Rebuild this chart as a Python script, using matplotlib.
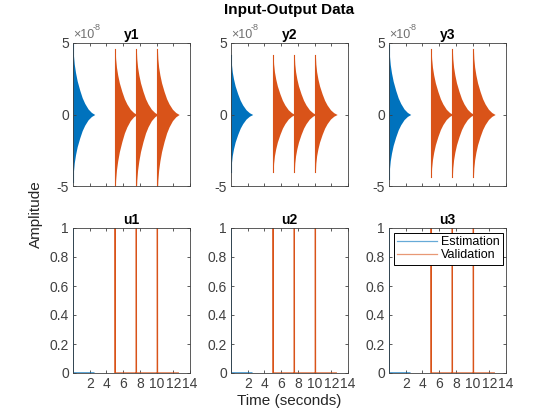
import numpy as np
import matplotlib.pyplot as plt

plt.rcParams['font.family'] = ['Liberation Sans', 'DejaVu Sans']
plt.rcParams['axes.unicode_minus'] = False

# envelope of the decaying oscillation (relative to peak)
env_t = [0, 0.05, 0.15, 0.3, 0.5, 0.8, 1.1, 1.4, 1.8, 2.2, 2.6]
env_shape = [1.0, 0.85, 0.72, 0.60, 0.48, 0.35, 0.24, 0.16, 0.08, 0.03, 0.0]

# start times of the experiments (seconds)
est_starts = [0.0]
val_starts = [5.05, 7.58, 10.1]
seg_len = 2.5

# peak amplitude (x1e-8): [upper, lower] for estimation and validation
y_names = ['y1', 'y2', 'y3']
est_peaks = [[4.9, -4.7], [4.15, -4.0], [4.85, -4.5]]
val_peaks = [[4.6, -5.4], [4.15, -4.0], [4.6, -4.4]]
u_names = ['u1', 'u2', 'u3']
u_height = 1.0

blue = '#0072BD'
orange = '#D95319'
grey = '#404040'

fig = plt.figure(figsize=(5.6, 4.2), dpi=100)
xs = [73/560, 231/560, 389/560]
w = 117/560


def style(ax):
    ax.set_xlim(0, 14)
    ax.set_xticks(np.arange(2, 15, 2))
    ax.tick_params(direction='in', length=2.5, width=0.6, top=True, right=True,
                   colors=grey, labelsize=10, pad=3)
    for s in ax.spines.values():
        s.set_color(grey)
        s.set_linewidth(0.6)


def envelope(ax, start, peaks, color):
    t = start + np.array(env_t)
    shape = np.array(env_shape)
    ax.fill_between(t, peaks[1] * shape * 1e-8, peaks[0] * shape * 1e-8,
                    color=color, lw=0)
    ax.plot([start, start], [peaks[1] * 1e-8, peaks[0] * 1e-8], color=color, lw=0.8)


def impulses(ax, starts, color, label):
    tt, uu = [], []
    for s in starts:
        tt += [s, s, s + 0.01]
        uu += [0, u_height, 0]
    tt.append(starts[-1] + seg_len)
    uu.append(0)
    ax.plot(tt, uu, color=color, lw=0.9, label=label)


for i in range(3):
    ax = fig.add_axes([xs[i], 1 - 186/420, w, 143/420])
    for s in est_starts:
        envelope(ax, s, est_peaks[i], blue)
    for s in val_starts:
        envelope(ax, s, val_peaks[i], orange)
    ax.set_ylim(-5e-8, 5e-8)
    ax.set_yticks([-5e-8, 0, 5e-8])
    ax.set_yticklabels(['-5', '0', '5'])
    style(ax)
    ax.set_xticklabels([])
    ax.set_title(y_names[i], fontsize=10, fontweight='bold', pad=3)
    ax.text(0.0, 1.015, '\u00d710', transform=ax.transAxes, fontsize=9,
            color='#707070', ha='left', va='bottom')
    ax.text(0.165, 1.075, '-8', transform=ax.transAxes, fontsize=6.5,
            color='#707070', ha='left', va='bottom')

    ax2 = fig.add_axes([xs[i], 1 - 373/420, w, 145/420])
    impulses(ax2, est_starts, blue, 'Estimation')
    impulses(ax2, val_starts, orange, 'Validation')
    ax2.set_ylim(0, 1)
    ax2.set_yticks([0, 0.2, 0.4, 0.6, 0.8, 1])
    ax2.set_yticklabels(['0', '0.2', '0.4', '0.6', '0.8', '1'])
    style(ax2)
    ax2.set_title(u_names[i], fontsize=10, fontweight='bold', pad=3)
    if i == 2:
        leg = ax2.legend(loc='upper left', fontsize=9, fancybox=False, framealpha=1,
                         borderpad=0.25, handlelength=3.2, handletextpad=0.3,
                         labelspacing=0.1, borderaxespad=0.4)
        leg.get_frame().set_edgecolor('black')
        leg.get_frame().set_linewidth(0.7)
        for h in leg.get_lines():
            h.set_alpha(0.6)

fig.text(0.517, 0.976, 'Input-Output Data', ha='center', va='center',
         fontsize=11, fontweight='bold')
fig.text(0.065, 0.49, 'Amplitude', rotation=90, ha='center', va='center', fontsize=11,
         color='#262626')
fig.text(0.517, 0.045, 'Time (seconds)', ha='center', va='center', fontsize=11,
         color='#262626')

fig.savefig('out.png', dpi=100)
